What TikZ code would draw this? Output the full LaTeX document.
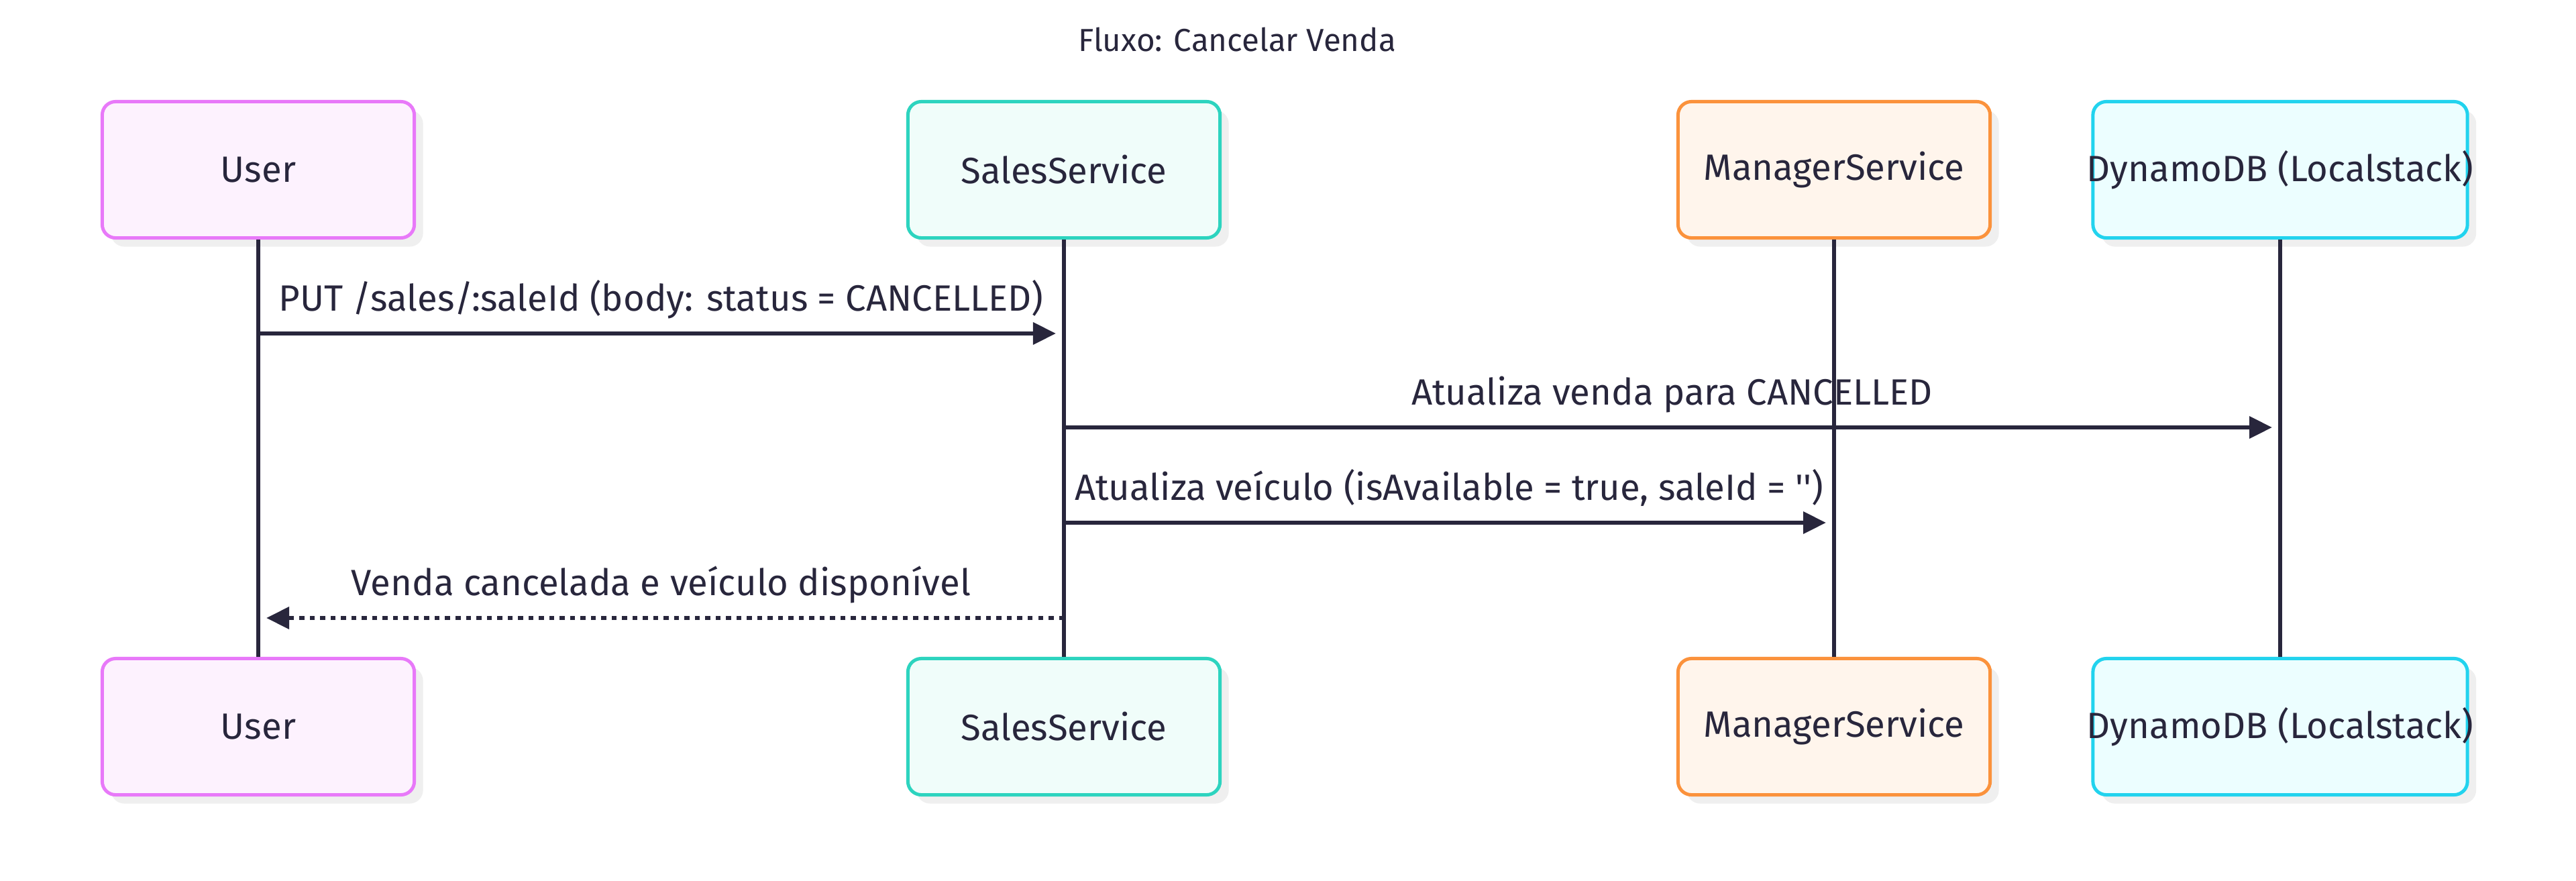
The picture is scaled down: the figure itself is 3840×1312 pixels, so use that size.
\documentclass[tikz,border=0pt]{standalone}
\usepackage{fontspec}
\setmainfont{Fira Sans}[Ligatures=TeXOff]
\usetikzlibrary{arrows.meta,shadows}
\definecolor{ink}{HTML}{28263C}
\definecolor{userD}{HTML}{E879F9}
\definecolor{userF}{HTML}{FDF2FE}
\definecolor{salesD}{HTML}{2DD4BF}
\definecolor{salesF}{HTML}{F0FDFA}
\definecolor{mgrD}{HTML}{FB923C}
\definecolor{mgrF}{HTML}{FFF5EC}
\definecolor{dynD}{HTML}{22D3EE}
\definecolor{dynF}{HTML}{ECFEFF}
\definecolor{shade}{HTML}{EFEFEF}
\tikzset{
  actor/.style={draw, line width=0.05cm, rounded corners=0.2cm,
    minimum width=4.65cm, minimum height=2.03cm, inner sep=0pt,
    text=ink, font=\fontsize{15.5}{18}\selectfont,
    drop shadow={shadow xshift=0.13cm, shadow yshift=-0.13cm, fill=shade, opacity=1}},
  dynbox/.style={actor, draw=dynD, fill=dynF, minimum width=5.58cm, inner xsep=-0.2cm},
  life/.style={draw=ink, line width=0.06cm},
  msg/.style={draw=ink, line width=0.065cm, -{Triangle[length=0.34cm, width=0.32cm]}, shorten >=0.12cm},
  reply/.style={msg, dash pattern=on 0.075cm off 0.08cm},
  lbl/.style={anchor=base, text=ink, font=\fontsize{15.5}{18}\selectfont, inner sep=0pt, yshift=0.33cm},
  ttl/.style={anchor=base, text=ink, font=\fontsize{13.5}{16}\selectfont, inner sep=0pt},
}
\begin{document}
\begin{tikzpicture}[x=0.01cm, y=-0.01cm]
\useasboundingbox (0,0) rectangle (3840,1312);
\fill[white] (0,0) rectangle (3840,1312);

\node[ttl] (title) at (1844,77) {Fluxo: Cancelar Venda};

% top actors
\node[actor, draw=userD, fill=userF] (uT) at (385,253) {User};
\node[actor, draw=salesD, fill=salesF] (sT) at (1586,253) {SalesService};
\node[actor, draw=mgrD, fill=mgrF] (mT) at (2734,253) {ManagerService};
\node[dynbox] (dT) at (3399,253) {DynamoDB (Localstack)};

% bottom actors
\node[actor, draw=userD, fill=userF] (uB) at (385,1083) {User};
\node[actor, draw=salesD, fill=salesF] (sB) at (1586,1083) {SalesService};
\node[actor, draw=mgrD, fill=mgrF] (mB) at (2734,1083) {ManagerService};
\node[dynbox] (dB) at (3399,1083) {DynamoDB (Localstack)};

% lifelines
\draw[life] (uT.south) -- (uB.north);
\draw[life] (sT.south) -- (sB.north);
\draw[life] (mT.south) -- (mB.north);
\draw[life] (dT.south) -- (dB.north);

% message rows
\coordinate (r1) at (0,497);
\coordinate (r2) at (0,637);
\coordinate (r3) at (0,779);
\coordinate (r4) at (0,921);

\draw[msg] (uT |- r1) -- node[lbl] {PUT /sales/:saleId (body: status = CANCELLED)} (sT |- r1);
\draw[msg] (sT |- r2) -- node[lbl] {Atualiza venda para CANCELLED} (dT |- r2);
\draw[msg] (sT |- r3) -- node[lbl] {Atualiza veículo (isAvailable = true, saleId = '')} (mT |- r3);
\draw[reply] (sT |- r4) -- node[lbl] {Venda cancelada e veículo disponível} (uT |- r4);
\end{tikzpicture}
\end{document}
